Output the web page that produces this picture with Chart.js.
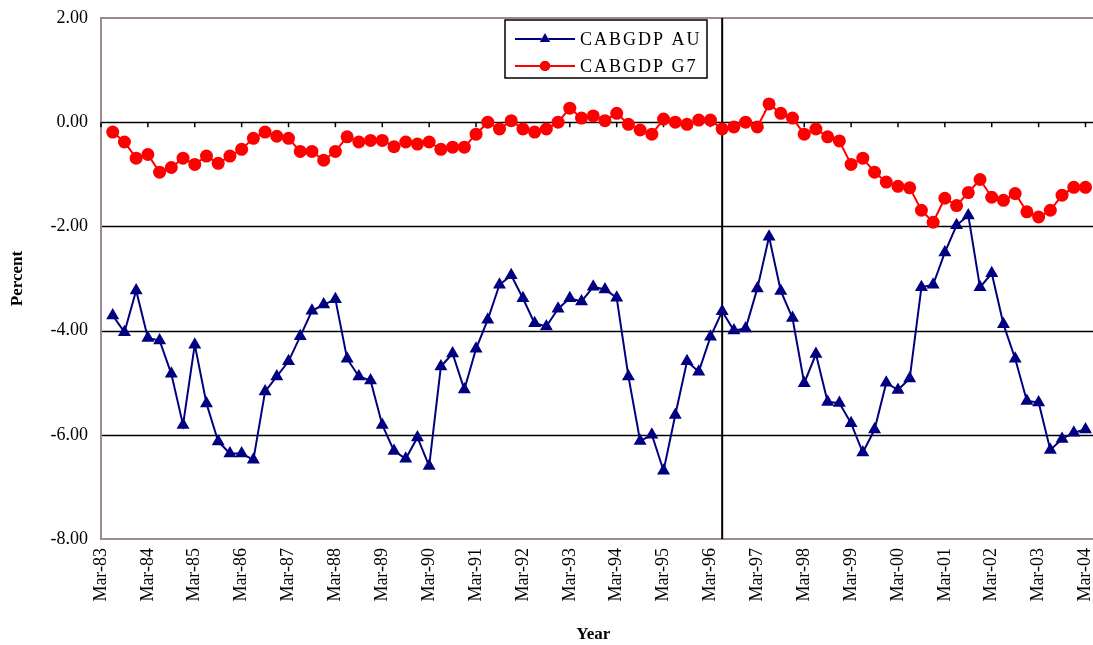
<!DOCTYPE html>
<html>
<head>
<meta charset="utf-8">
<script src="https://cdn.jsdelivr.net/npm/chart.js@4.4.1/dist/chart.umd.min.js"></script>
<style>
  html, body { margin: 0; padding: 0; background: #fff; }
</style>
</head>
<body>
<canvas id="chart" width="1093" height="645"></canvas>
<script>
// Quarterly categories, Mar-83 .. Mar-04
const years = ['83','84','85','86','87','88','89','90','91','92','93','94','95','96','97','98','99','00','01','02','03','04'];
const months = ['Mar', 'Jun', 'Sep', 'Dec'];
const labels = [];
years.forEach((yr, yi) => {
    months.forEach(m => {
        if (yi < years.length - 1 || m === 'Mar') labels.push(m + '-' + yr);
    });
});

// Current account balance / GDP (%)
const auValues = [null,
    -3.71, -4.03, -3.23, -4.14, -4.19, -4.83, -5.81, -4.27, -5.40, -6.13,
    -6.36, -6.36, -6.48, -5.17, -4.88, -4.59, -4.11, -3.62, -3.50, -3.40,
    -4.54, -4.88, -4.96, -5.81, -6.31, -6.46, -6.05, -6.60, -4.69, -4.44,
    -5.13, -4.35, -3.79, -3.12, -2.94, -3.38, -3.86, -3.92, -3.58, -3.38,
    -3.44, -3.16, -3.21, -3.37, -4.88, -6.12, -6.00, -6.69, -5.62, -4.59,
    -4.79, -4.12, -3.63, -4.00, -3.96, -3.19, -2.20, -3.24, -3.76, -5.01,
    -4.45, -5.37, -5.39, -5.78, -6.34, -5.90, -5.00, -5.14, -4.92, -3.17,
    -3.12, -2.50, -1.98, -1.79, -3.17, -2.90, -3.88, -4.54, -5.35, -5.38,
    -6.29, -6.08, -5.96, -5.90];

const g7Values = [null,
    -0.19, -0.38, -0.69, -0.62, -0.96, -0.87, -0.69, -0.81, -0.65, -0.79,
    -0.65, -0.52, -0.31, -0.19, -0.27, -0.31, -0.56, -0.56, -0.73, -0.56,
    -0.28, -0.38, -0.35, -0.35, -0.47, -0.38, -0.42, -0.38, -0.52, -0.48,
    -0.48, -0.23, 0.00, -0.13, 0.03, -0.13, -0.19, -0.13, 0.00, 0.27,
    0.08, 0.12, 0.03, 0.17, -0.04, -0.15, -0.23, 0.06, 0.00, -0.04,
    0.04, 0.04, -0.13, -0.09, 0.00, -0.09, 0.35, 0.17, 0.08, -0.23,
    -0.13, -0.28, -0.36, -0.81, -0.69, -0.96, -1.15, -1.23, -1.26, -1.69,
    -1.92, -1.46, -1.60, -1.35, -1.10, -1.44, -1.50, -1.37, -1.72, -1.82,
    -1.69, -1.40, -1.25, -1.25];

const seriesNames = ['CABGDP AU', 'CABGDP G7'];
const markerIndex = 53; // vertical rule (Jun-96)

const serif = 'Liberation Serif, Times New Roman, serif';

// Borders, gridlines, year ticks on the zero line, vertical rule, legend
const extras = {
    id: 'extras',
    beforeDatasetsDraw(chart) {
        const { ctx, chartArea: a, scales: { x, y } } = chart;
        ctx.save();

        // horizontal gridlines
        ctx.strokeStyle = '#000';
        ctx.lineWidth = 1.5;
        y.ticks.forEach(t => {
            if (t.value === 2 || t.value === -8) return;
            const py = Math.round(y.getPixelForValue(t.value)) + 0.5;
            ctx.beginPath();
            ctx.moveTo(a.left, py);
            ctx.lineTo(chart.width, py);
            ctx.stroke();
        });

        // plot border
        ctx.strokeStyle = '#9c8a8a';
        ctx.lineWidth = 2;
        ctx.beginPath();
        ctx.moveTo(chart.width, a.top);
        ctx.lineTo(a.left, a.top);
        ctx.lineTo(a.left, a.bottom);
        ctx.lineTo(chart.width, a.bottom);
        ctx.stroke();

        // year ticks hanging from the zero line
        const y0 = y.getPixelForValue(0);
        ctx.strokeStyle = '#000';
        ctx.lineWidth = 1.5;
        labels.forEach((l, i) => {
            if (i % 4 !== 0) return;
            const px = x.getPixelForValue(i);
            ctx.beginPath();
            ctx.moveTo(px, y0);
            ctx.lineTo(px, y0 + 5);
            ctx.stroke();
        });

        // vertical rule
        const vx = x.getPixelForValue(markerIndex);
        ctx.lineWidth = 2;
        ctx.beginPath();
        ctx.moveTo(vx, a.top);
        ctx.lineTo(vx, a.bottom);
        ctx.stroke();
        ctx.restore();
    },
    afterDraw(chart) {
        const ctx = chart.ctx;
        ctx.save();
        // legend box
        ctx.fillStyle = '#fff';
        ctx.fillRect(505, 20, 202, 58);
        ctx.strokeStyle = '#000';
        ctx.lineWidth = 1.5;
        ctx.strokeRect(505, 20, 202, 58);

        chart.data.datasets.forEach((ds, i) => {
            const ly = 39 + i * 27;
            ctx.strokeStyle = ds.borderColor;
            ctx.lineWidth = 2;
            ctx.beginPath();
            ctx.moveTo(515, ly);
            ctx.lineTo(575, ly);
            ctx.stroke();
            Chart.helpers.drawPoint(ctx, {
                pointStyle: ds.pointStyle,
                radius: ds.pointStyle === 'triangle' ? 6 : 5,
                rotation: 0,
                borderWidth: 0
            }, 545, ly);
            ctx.fillStyle = ds.borderColor;
            ctx.fill();

            ctx.fillStyle = '#000';
            ctx.font = '18px ' + serif;
            ctx.letterSpacing = '2px';
            ctx.textBaseline = 'middle';
            ctx.textAlign = 'left';
            ctx.fillText(ds.label, 580, ly + 1);
        });
        ctx.restore();
    }
};

const ctx = document.getElementById('chart').getContext('2d');

new Chart(ctx, {
    type: 'line',
    data: {
        labels: labels,
        datasets: [{
            label: seriesNames[0],
            data: auValues,
            borderColor: '#000080',
            backgroundColor: '#000080',
            borderWidth: 2,
            pointStyle: 'triangle',
            pointRadius: 7.5,
            pointBorderWidth: 0,
            pointBackgroundColor: '#000080',
            tension: 0
        }, {
            label: seriesNames[1],
            data: g7Values,
            borderColor: '#ff0000',
            backgroundColor: '#ff0000',
            borderWidth: 2,
            pointStyle: 'circle',
            pointRadius: 6.5,
            pointBorderWidth: 0,
            pointBackgroundColor: '#ff0000',
            tension: 0
        }]
    },
    options: {
        responsive: false,
        animation: false,
        layout: {
            padding: { top: 18, right: -3, bottom: 0, left: 0 }
        },
        plugins: {
            legend: { display: false },
            tooltip: { enabled: false }
        },
        scales: {
            x: {
                type: 'category',
                offset: false,
                grid: { display: false, drawTicks: false },
                border: { display: false },
                ticks: {
                    autoSkip: false,
                    maxRotation: 90,
                    minRotation: 90,
                    padding: 9,
                    color: '#000',
                    font: { family: serif, size: 18 },
                    callback: function(value, index) {
                        return index % 4 === 0 ? labels[index] : '';
                    }
                },
                title: {
                    display: true,
                    text: 'Year',
                    color: '#000',
                    font: { family: serif, size: 17, weight: 'bold' },
                    padding: { top: 0, bottom: 0 }
                },
                afterFit: function(scale) {
                    scale.height = 106;
                    scale.paddingRight = 0;
                    scale.paddingLeft = 0;
                }
            },
            y: {
                min: -8,
                max: 2,
                grid: { display: false, drawTicks: false },
                border: { display: false },
                ticks: {
                    stepSize: 2,
                    padding: 13,
                    color: '#000',
                    font: { family: serif, size: 18 },
                    callback: function(value) {
                        return value.toFixed(2);
                    }
                },
                title: {
                    display: true,
                    text: 'Percent',
                    color: '#000',
                    font: { family: serif, size: 17, weight: 'bold' },
                    padding: { top: 7, bottom: 0 }
                },
                afterFit: function(scale) {
                    scale.width = 101;
                    scale.paddingTop = 0;
                    scale.paddingBottom = 0;
                }
            }
        }
    },
    plugins: [extras]
});
</script>
</body>
</html>
